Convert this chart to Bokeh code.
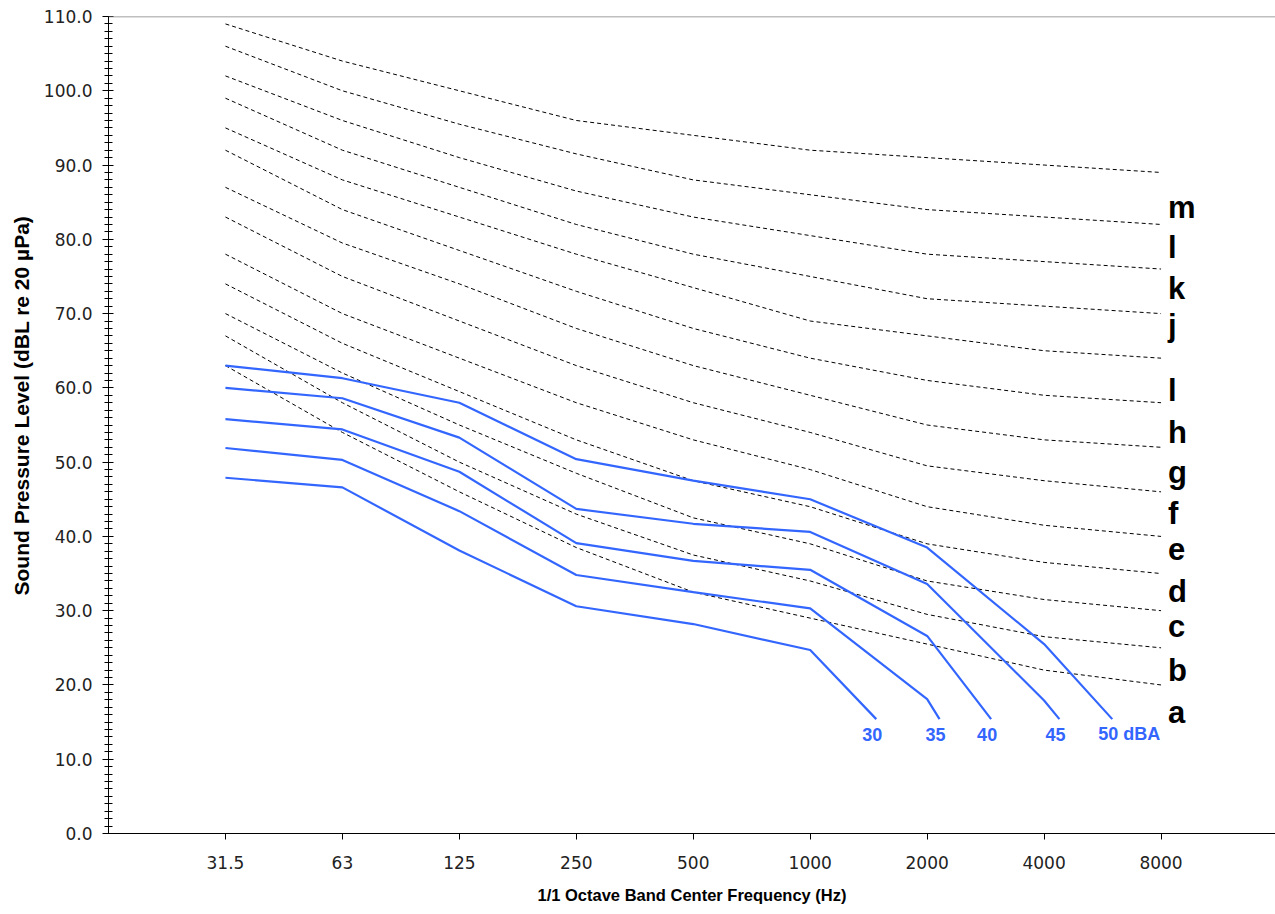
from bokeh.plotting import figure
from bokeh.models import (FixedTicker, SingleIntervalTicker, PrintfTickFormatter,
                          Span, Title, Range1d, ColumnDataSource)
from bokeh.core.properties import value
from bokeh.embed import file_html
from bokeh.resources import INLINE

# ---------------- data ----------------
freq_labels = ["31.5", "63", "125", "250", "500", "1000", "2000", "4000", "8000"]

curve_names = ["m", "l", "k", "j", "l", "h", "g", "f", "e", "d", "c", "b", "a"]
curve_m = [109, 104, 100, 96, 94, 92, 91, 90, 89]
curve_l = [106, 100, 95.5, 91.5, 88, 86, 84, 83, 82]
curve_k = [102, 96, 91, 86.5, 83, 80.5, 78, 77, 76]
curve_j = [99, 92, 87, 82, 78, 75, 72, 71, 70]
curve_i = [95, 88, 83, 78, 73.5, 69, 67, 65, 64]
curve_h = [92, 84, 78.5, 73, 68, 64, 61, 59, 58]
curve_g = [87, 79.5, 74, 68, 63, 59, 55, 53, 52]
curve_f = [83, 75, 69, 63, 58, 54, 49.5, 47.5, 46]
curve_e = [78, 70, 64, 58, 53, 49, 44, 41.5, 40]
curve_d = [74, 66, 59.5, 53, 47.5, 44, 39, 36.5, 35]
curve_c = [70, 62, 55, 48.5, 42.5, 39, 34, 31.5, 30]
curve_b = [67, 58, 50, 43, 37.5, 34, 29.5, 26.5, 25]
curve_a = [63, 54, 46, 38.5, 32.5, 29, 25.5, 22, 20]
curves = [curve_m, curve_l, curve_k, curve_j, curve_i, curve_h, curve_g,
          curve_f, curve_e, curve_d, curve_c, curve_b, curve_a]
# baseline level (dB) of each curve letter at the right end
letter_levels = [83.4, 77.9, 72.4, 67.4, 58.7, 53.1, 47.7, 42.1, 37.4, 31.7, 26.9, 21.0, 15.4]

dba_labels = ["30", "35", "40", "45", "50 dBA"]
dba_30 = [47.9, 46.6, 38.1, 30.6, 28.2, 24.7]
dba_35 = [51.9, 50.3, 43.4, 34.8, 32.5, 30.3, 18.1]
dba_40 = [55.8, 54.4, 48.7, 39.1, 36.7, 35.5, 26.6]
dba_45 = [60.0, 58.6, 53.3, 43.7, 41.7, 40.6, 33.6, 17.9]
dba_50 = [63.0, 61.3, 58.0, 50.4, 47.5, 45.0, 38.5, 25.5]
dba_curves = [dba_30, dba_35, dba_40, dba_45, dba_50]
# end point of each dBA curve (band position, level)
dba_end_pos = [5.565, 6.106, 6.547, 7.131, 7.583]
dba_end_level = 15.4

# ---------------- figure ----------------
BLUE = "#3366ff"
FRAME_W, FRAME_H = 1167, 817
px_per_band = 116.95

p = figure(frame_width=FRAME_W, frame_height=FRAME_H,
           x_range=Range1d(-1, -1 + FRAME_W / px_per_band), y_range=Range1d(0, 110),
           output_backend="svg", toolbar_location=None,
           min_border_left=108, min_border_right=0, min_border_top=16, min_border_bottom=77,
           background_fill_color="white", border_fill_color="white")
p.outline_line_color = None
p.xgrid.visible = False
p.ygrid.visible = False

# x axis
p.xaxis.ticker = FixedTicker(ticks=list(range(len(freq_labels))))
p.xaxis.major_label_overrides = {i: s for i, s in enumerate(freq_labels)}
p.xaxis.minor_tick_line_color = None
p.xaxis.major_tick_in = 0
p.xaxis.major_tick_out = 6
p.xaxis.major_label_standoff = 16
p.xaxis.axis_label = "1/1 Octave Band Center Frequency (Hz)"
p.xaxis.axis_label_text_font = "Liberation Sans"
p.xaxis.axis_label_text_font_style = "bold"
p.xaxis.axis_label_text_font_size = "16.5px"
p.xaxis.axis_label_text_color = "black"
p.xaxis.axis_label_standoff = 14

# y axis
p.yaxis.ticker = SingleIntervalTicker(interval=10, num_minor_ticks=10)
p.yaxis.formatter = PrintfTickFormatter(format="%.1f")
p.yaxis.major_tick_in = 5
p.yaxis.major_tick_out = 6
p.yaxis.minor_tick_in = 4
p.yaxis.minor_tick_out = 4
p.yaxis.major_label_standoff = 10

for ax in (p.xaxis, p.yaxis):
    ax.axis_line_color = "black"
    ax.major_tick_line_color = "black"
    ax.major_label_text_font = "DejaVu Sans"
    ax.major_label_text_font_size = "17px"
    ax.major_label_text_color = "#222222"
p.yaxis.minor_tick_line_color = "black"

# top border
p.add_layout(Span(location=110, dimension="width", line_color="#808080", line_width=1.5))

# y title
p.add_layout(Title(text="Sound Pressure Level (dBL re 20  µPa)", align="left", offset=238,
                   text_font="Liberation Sans", text_font_style="bold",
                   text_font_size="21px", text_color="black", standoff=15), "left")

# criterion curves (dashed)
xs = list(range(len(freq_labels)))
for c in curves:
    p.line(xs, c, line_color="black", line_width=1, line_dash="4 3")

letter_src = ColumnDataSource(dict(x=[xs[-1]] * len(curve_names), y=letter_levels, t=curve_names))
p.text(x="x", y="y", text="t", source=letter_src, x_offset=7, y_offset=-7,
       text_align="left", text_baseline="alphabetic",
       text_font=value("Liberation Sans"), text_font_style="bold",
       text_font_size="31px", text_color="black")

# dBA curves (blue)
for c, xe in zip(dba_curves, dba_end_pos):
    p.line(list(range(len(c))) + [xe], c + [dba_end_level], line_color=BLUE, line_width=2.2)

dba_src = ColumnDataSource(dict(x=dba_end_pos, y=[dba_end_level] * len(dba_end_pos), t=dba_labels))
p.text(x="x", y="y", text="t", source=dba_src, x_offset=-14, y_offset=15,
       text_align="left", text_baseline="alphabetic",
       text_font=value("Liberation Sans"), text_font_style="bold",
       text_font_size="18px", text_color=BLUE)

open("out.html", "w").write(file_html(p, INLINE))
